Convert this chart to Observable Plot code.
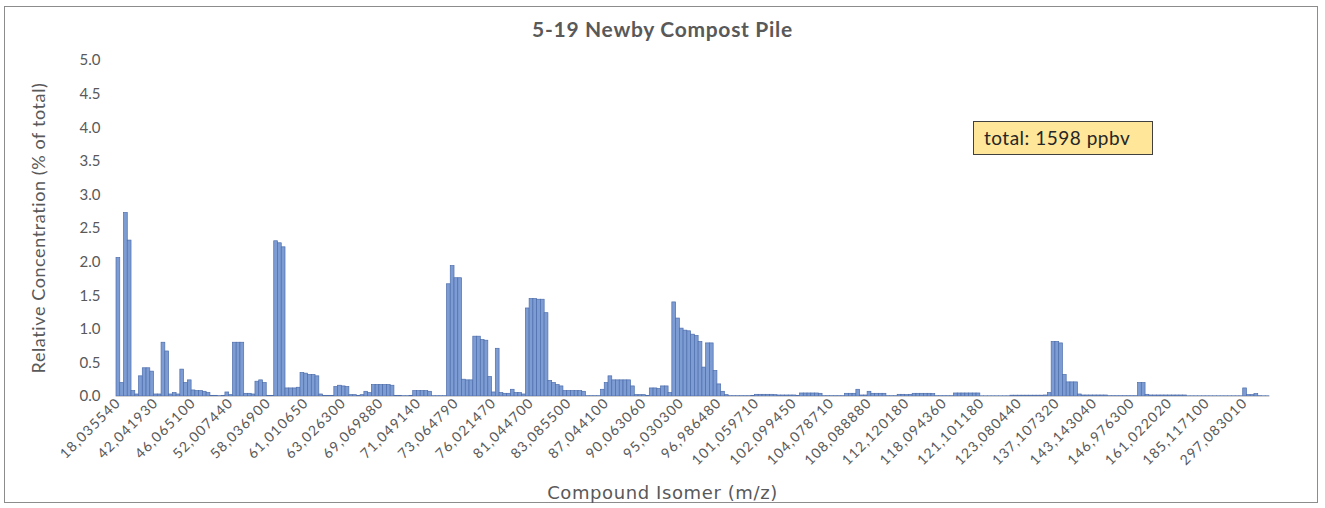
<!DOCTYPE html>
<html>
<head>
<meta charset="utf-8">
<script src="https://cdn.jsdelivr.net/npm/d3@7"></script>
<script src="https://cdn.jsdelivr.net/npm/@observablehq/plot@0.6"></script>
<style>
  html, body { margin: 0; padding: 0; background: #fff; }
  #wrap { position: relative; width: 1325px; height: 508px; overflow: hidden; font-family: Lato, "Open Sans", sans-serif; }
  #frame { position: absolute; left: 4px; top: 6px; width: 1314px; height: 497px; border: 1px solid #8c8c8c; box-sizing: border-box; }
  #chart { position: absolute; left: 0; top: 0; }
  .title { position: absolute; left: 0; width: 1325px; top: 16px; text-align: center; font-weight: bold; font-size: 21px; letter-spacing: 0.7px; color: #595959; }
  .ytitle { position: absolute; left: 38px; top: 228px; transform: translate(-50%, -50%) rotate(-90deg); white-space: nowrap; font-size: 18px; letter-spacing: 0.6px; color: #595959; }
  .xtitle { position: absolute; left: 0; width: 1325px; top: 482px; text-align: center; font-size: 18px; color: #595959; font-family: "DejaVu Sans", sans-serif; letter-spacing: 0.6px; }
  .note { position: absolute; left: 973px; top: 121px; width: 180px; height: 34px; box-sizing: border-box; background: #ffe699; border: 1px solid #404040; font-size: 19px; letter-spacing: 0.5px; color: #262626; padding-left: 10px; line-height: 31px; }
</style>
</head>
<body>
<div id="wrap">
  <div id="frame"></div>
  <div id="chart"></div>
  <div class="title">5-19 Newby Compost Pile</div>
  <div class="ytitle">Relative Concentration (% of total)</div>
  <div class="xtitle">Compound Isomer (m/z)</div>
  <div class="note">total: 1598 ppbv</div>
</div>
<script>
// Relative concentration (% of total) per compound isomer, in axis order
const values = [
  2.06, 0.2, 2.73, 2.32, 0.08, 0.03, 0.3, 0.42, 0.42, 0.37,
  0.03, 0.03, 0.8, 0.67, 0.03, 0.05, 0.03, 0.4, 0.2, 0.24,
  0.09, 0.08, 0.08, 0.07, 0.05, 0.01, 0.01, 0.005, 0.01, 0.06,
  0.02, 0.8, 0.8, 0.8, 0.04, 0.04, 0.03, 0.22, 0.24, 0.2,
  0.01, 0.01, 2.31, 2.28, 2.22, 0.12, 0.12, 0.12, 0.13, 0.35,
  0.34, 0.32, 0.32, 0.3, 0.03, 0.01, 0.01, 0.01, 0.14, 0.16,
  0.15, 0.14, 0.02, 0.02, 0.01, 0.02, 0.07, 0.05, 0.17, 0.17,
  0.17, 0.17, 0.17, 0.16, 0.01, 0.01, 0.005, 0.005, 0.01, 0.08,
  0.08, 0.08, 0.08, 0.07, 0.005, 0.005, 0.005, 0.005, 1.67, 1.94,
  1.76, 1.76, 0.25, 0.24, 0.24, 0.89, 0.89, 0.84, 0.83, 0.29,
  0.06, 0.71, 0.05, 0.04, 0.04, 0.1, 0.05, 0.05, 0.03, 1.31,
  1.45, 1.45, 1.44, 1.44, 1.24, 0.23, 0.2, 0.17, 0.15, 0.08,
  0.08, 0.08, 0.08, 0.08, 0.07, 0.005, 0.005, 0.005, 0.005, 0.1,
  0.2, 0.3, 0.24, 0.24, 0.24, 0.24, 0.24, 0.15, 0.02, 0.02,
  0.02, 0.01, 0.12, 0.12, 0.11, 0.15, 0.15, 0.05, 1.40, 1.16,
  1.01, 0.98, 0.97, 0.92, 0.9, 0.81, 0.43, 0.79, 0.79, 0.38,
  0.18, 0.07, 0.02, 0.005, 0.005, 0.005, 0.005, 0.005, 0.005, 0.01,
  0.025, 0.025, 0.025, 0.025, 0.025, 0.02, 0.015, 0.015, 0.015, 0.015,
  0.015, 0.01, 0.045, 0.045, 0.045, 0.045, 0.045, 0.04, 0.005, 0.005,
  0.005, 0.005, 0.005, 0.005, 0.04, 0.04, 0.04, 0.1, 0.015, 0.015,
  0.07, 0.04, 0.04, 0.04, 0.04, 0.005, 0.005, 0.005, 0.025, 0.025,
  0.02, 0.025, 0.04, 0.04, 0.04, 0.04, 0.04, 0.035, 0.005, 0.005,
  0.005, 0.005, 0.005, 0.045, 0.045, 0.045, 0.045, 0.045, 0.045, 0.045,
  0.003, 0.003, 0.003, 0.003, 0.003, 0.003, 0.003, 0.003, 0.012, 0.012,
  0.012, 0.012, 0.012, 0.012, 0.012, 0.012, 0.012, 0.015, 0.05, 0.81,
  0.81, 0.79, 0.32, 0.21, 0.21, 0.21, 0.03, 0.015, 0.015, 0.015,
  0.015, 0.015, 0.015, 0.015, 0.005, 0.005, 0.005, 0.005, 0.005, 0.005,
  0.005, 0.005, 0.2, 0.2, 0.025, 0.015, 0.015, 0.015, 0.015, 0.015,
  0.015, 0.015, 0.015, 0.015, 0.015, 0.003, 0.003, 0.003, 0.003, 0.003,
  0.003, 0.003, 0.003, 0.003, 0.003, 0.003, 0.003, 0.003, 0.003, 0.003,
  0.12, 0.02, 0.02, 0.035, 0.005, 0.003, 0.003
];

// Category labels shown on the axis (every 10th compound)
const tickLabels = [
  "18,035540", "42,041930", "46,065100", "52,007440", "58,036900", "61,010650",
  "63,026300", "69,069880", "71,049140", "73,064790", "76,021470", "81,044700",
  "83,085500", "87,044100", "90,063060", "95,030300", "96,986480", "101,059710",
  "102,099450", "104,078710", "108,088880", "112,120180", "118,094360", "121,101180",
  "123,080440", "137,107320", "143,143040", "146,976300", "161,022020", "185,117100",
  "297,083010"
];
const labelStep = 10;
const yTicks = [0, 0.5, 1, 1.5, 2, 2.5, 3, 3.5, 4, 4.5, 5];

const data = values.map((v, i) => ({idx: i, value: v}));
const tickIdx = tickLabels.map((_, k) => k * labelStep);

const chart = Plot.plot({
  width: 1325,
  height: 508,
  marginLeft: 116,
  marginRight: 56,
  marginTop: 60,
  marginBottom: 112,
  style: {fontFamily: "Lato, 'Open Sans', sans-serif", background: "transparent"},
  x: {type: "band", domain: d3.range(values.length), padding: 0, axis: null},
  y: {domain: [0, 5], axis: null},
  marks: [
    Plot.barY(data, {x: "idx", y: "value", fill: "#7d9cd4", stroke: "#4e6eab", strokeWidth: 0.7}),
    Plot.ruleY([0], {stroke: "#d0d0d0", strokeWidth: 1}),
    Plot.axisY({ticks: yTicks, tickFormat: d3.format(".1f"), tickSize: 0, tickPadding: 16, fontSize: 15, color: "#595959", label: null}),
    Plot.axisX({ticks: tickIdx, tickFormat: i => tickLabels[i / labelStep], tickRotate: -45, tickSize: 0, tickPadding: 4, fontSize: 14, color: "#595959", label: null})
  ]
});
chart.querySelectorAll("g[aria-label='x-axis tick label'] text").forEach(t => t.setAttribute("letter-spacing", "1.2"));
document.getElementById("chart").appendChild(chart);
</script>
</body>
</html>
